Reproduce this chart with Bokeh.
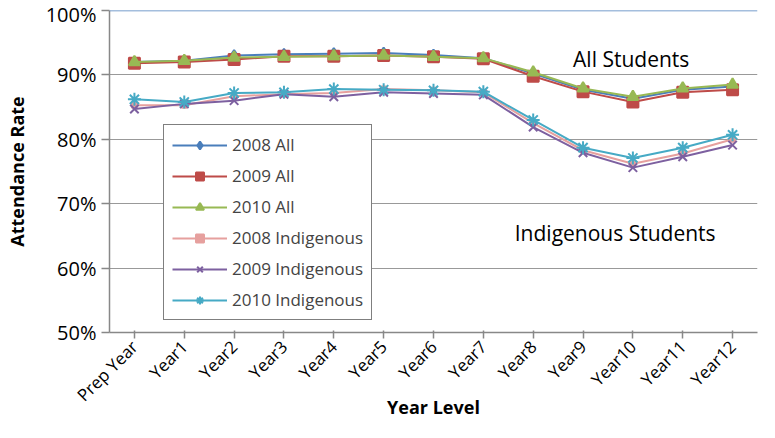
from bokeh.plotting import figure
from bokeh.models import Legend, LegendItem, NumeralTickFormatter, Label, FixedTicker, Span
from bokeh.embed import file_html
from bokeh.resources import INLINE
import math

years = ["Prep Year", "Year1", "Year2", "Year3", "Year4", "Year5", "Year6",
         "Year7", "Year8", "Year9", "Year10", "Year11", "Year12"]
all_2008 = [92.0, 92.2, 93.0, 93.2, 93.3, 93.4, 93.1, 92.6, 90.2, 87.7, 86.3, 87.7, 88.2]
all_2009 = [91.8, 92.0, 92.4, 92.9, 92.9, 93.0, 92.8, 92.5, 89.8, 87.4, 85.8, 87.3, 87.7]
all_2010 = [92.0, 92.2, 92.7, 92.8, 92.9, 93.0, 92.8, 92.6, 90.4, 87.9, 86.6, 87.9, 88.5]
ind_2008 = [85.3, 85.3, 86.7, 87.0, 87.2, 87.8, 87.6, 87.3, 82.5, 78.3, 76.2, 77.8, 80.0]
ind_2009 = [84.7, 85.5, 86.0, 87.0, 86.6, 87.3, 87.1, 86.9, 81.9, 77.9, 75.6, 77.3, 79.1]
ind_2010 = [86.2, 85.8, 87.2, 87.3, 87.8, 87.7, 87.6, 87.4, 83.0, 78.7, 77.1, 78.7, 80.7]

FONT = "Open Sans"
p = figure(x_range=years, y_range=(0.5, 1.0), width=759, height=422,
           output_backend="svg", toolbar_location=None,
           x_axis_label="Year Level", y_axis_label="Attendance Rate",
           min_border_left=109, min_border_top=10, min_border_right=2, min_border_bottom=0)
p.outline_line_color = None
p.xgrid.grid_line_color = None
p.ygrid.grid_line_color = "#999999"
p.ygrid.grid_line_width = 1.2
p.yaxis.ticker = FixedTicker(ticks=[0.5, 0.6, 0.7, 0.8, 0.9, 1.0])
p.yaxis.formatter = NumeralTickFormatter(format="0%")
for ax in (p.xaxis, p.yaxis):
    ax.major_label_text_font = FONT
    ax.major_label_text_font_size = "20px"
    ax.major_label_text_color = "black"
    ax.axis_label_text_font = FONT
    ax.axis_label_text_font_size = "18px"
    ax.axis_label_text_font_style = "bold"
    ax.axis_label_text_color = "black"
    ax.axis_line_color = "#888888"
    ax.axis_line_width = 1.5
    ax.major_tick_line_color = "#888888"
    ax.major_tick_line_width = 1.5
    ax.minor_tick_line_color = None
    ax.axis_label_standoff = 2
p.yaxis.major_tick_out = 8
p.yaxis.major_tick_in = 0
p.yaxis.axis_label_standoff = 14
p.xaxis.major_label_orientation = math.pi / 4
p.xaxis.major_label_text_font_size = "17px"
p.xaxis.axis_label_standoff = -22
p.add_layout(Span(location=1.0, dimension="width", line_color="#4a7ebb", line_width=1.5))

def pct(v):
    return [x / 100 for x in v]

items = []
specs = [
    ("2008 All", all_2008, "#4a7ebb", "diamond", 11),
    ("2009 All", all_2009, "#be4b48", "square", 11),
    ("2010 All", all_2010, "#98b954", "triangle", 11),
    ("2008 Indigenous", ind_2008, "#e6a09e", "square", 5),
    ("2009 Indigenous", ind_2009, "#7d60a0", "x", 12),
    ("2010 Indigenous", ind_2010, "#46aac5", "asterisk", 13),
]
for name, vals, col, mk, sz in specs:
    r1 = p.line(years, pct(vals), line_color=col, line_width=2)
    r2 = p.scatter(years, pct(vals), marker=mk, size=sz, fill_color=col,
                   line_color=col, line_width=2)
    items.append(LegendItem(label=name, renderers=[r1, r2]))

leg = Legend(items=items, location=(54, 12), border_line_color="black",
             border_line_width=1.5, label_text_font=FONT, label_text_font_size="17px",
             glyph_width=55, spacing=8, padding=8, background_fill_alpha=1,
             label_height=22)
p.add_layout(leg, "center")
p.add_layout(Label(x=9.3, y=0.903, text="All Students", text_font=FONT,
                   text_font_size="21px", text_color="black"))
p.add_layout(Label(x=8.13, y=0.632, text="Indigenous Students", text_font=FONT,
                   text_font_size="21px", text_color="black"))

open("out.html", "w").write(file_html(p, INLINE))
